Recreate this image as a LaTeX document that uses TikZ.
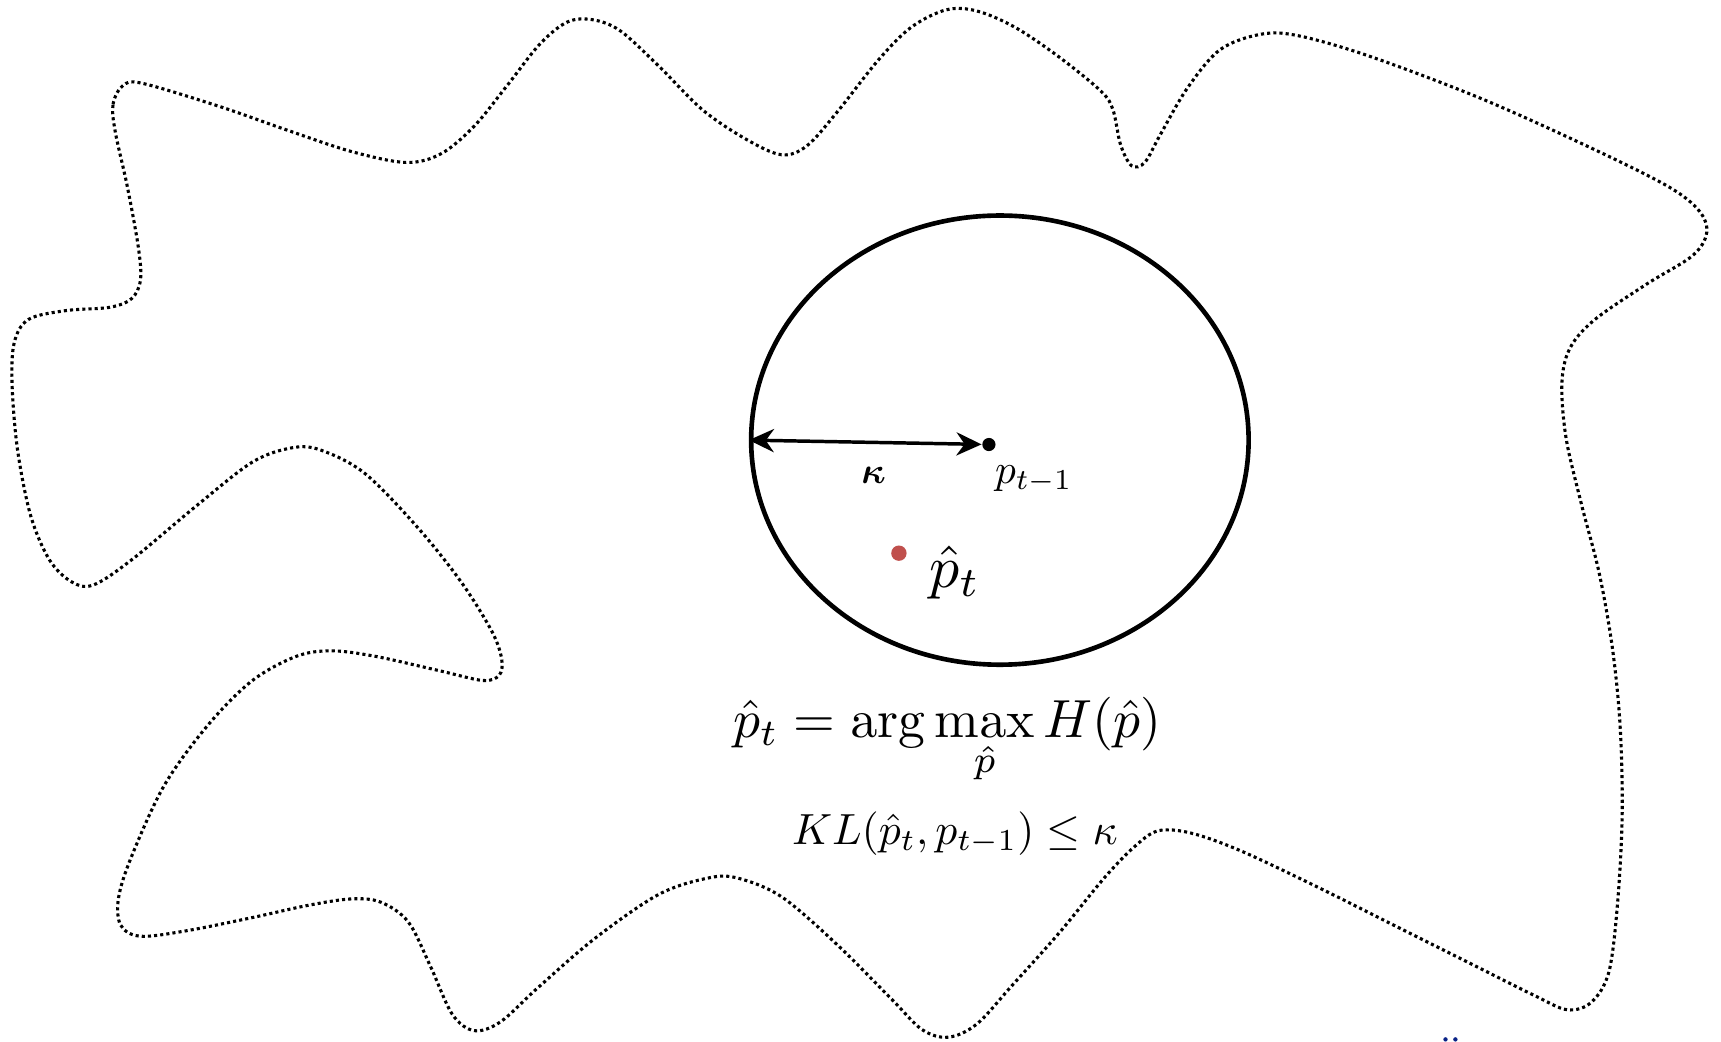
\documentclass[tikz,border=0pt]{standalone}
\usepackage{amsmath}
\usepackage{graphicx}
\usetikzlibrary{shapes.geometric,arrows.meta}
\definecolor{dotred}{RGB}{192,80,77}
\definecolor{navy}{RGB}{10,35,135}
\tikzset{
  blob/.style={line width=0.8pt, dash pattern=on 0.8pt off 0.8pt, line join=round},
  ballshape/.style={draw, ellipse, line width=1.2pt, inner sep=0pt, minimum width=4.53cm, minimum height=4.09cm},
  centerdot/.style={circle, fill=black, inner sep=0pt, minimum size=0.12cm},
  reddot/.style={circle, fill=dotred, inner sep=0pt, minimum size=0.14cm},
  radius arrow/.style={line width=0.9pt, {Stealth[length=6.5pt,width=6pt]}-{Stealth[length=6.5pt,width=6pt]}},
  lbl/.style={inner sep=0pt},
}
\begin{document}
\begin{tikzpicture}[x=0.01cm, y=-0.01cm]
\useasboundingbox (0,0) rectangle (1568,949);
% outer region
\draw[blob] plot[smooth cycle, tension=0.55] coordinates {
 (105,120) (103,95) (112,78) (130,76) (200,97) (260,118) (320,138) (370,148) (402,140)
 (432,115) (462,78) (492,40) (517,20) (540,18) (565,28) (600,60) (640,100) (680,127) (712,141)
 (735,133) (762,103) (800,55) (830,25) (862,9) (890,10) (925,25) (965,52) (1003,83) (1014,100)
 (1021,132) (1031,151) (1043,148) (1057,123) (1082,80) (1112,45) (1150,31) (1185,33) (1250,52)
 (1350,90) (1450,135) (1520,170) (1548,192) (1555,212) (1542,233) (1500,259) (1452,292) (1430,318)
 (1423,350) (1427,400) (1441,460) (1457,522) (1469,590) (1476,660) (1478,740) (1474,820) (1466,885)
 (1450,913) (1428,920) (1398,907) (1340,878) (1270,843) (1200,808) (1130,775) (1085,759) (1055,757)
 (1033,772) (1006,800) (965,850) (922,898) (890,933) (864,945) (840,938) (812,910) (762,860) (712,817)
 (672,800) (645,800) (600,815) (542,855) (490,900) (456,931) (432,939) (412,924) (392,880) (372,840)
 (347,822) (320,819) (280,825) (230,836) (170,848) (128,853) (110,843) (108,818) (120,780) (150,715)
 (190,660) (230,620) (270,598) (302,593) (342,598) (400,611) (440,620) (455,615) (457,600) (448,575)
 (420,530) (380,480) (332,431) (292,410) (266,408) (230,421) (180,460) (120,510) (85,533) (65,530)
 (45,510) (28,470) (16,410) (11,350) (13,312) (26,291) (60,283) (100,280) (120,272) (128,255)
 (126,225) (116,170)
};
% ball
\node[ballshape] (ball) at (911,401) {};
\node[centerdot] (prev) at (901,405) {};
\draw[radius arrow] (ball.west) -- (prev);
\node[lbl] (kappa) at (796,433) {\scalebox{0.95}{$\boldsymbol{\kappa}$}};
\node[lbl] (prevlbl) at (942,437) {\scalebox{1.07}{$p_{t-1}$}};
\node[lbl] (newlbl) at (870,522) {\scalebox{1.55}{$\hat{p}_t$}};
\node[reddot] (new) at (819,504) {};
\node[lbl, anchor=base] (obj) at (863,672) {\scalebox{1.39}{$\displaystyle \hat{p}_t = \arg\max_{\hat{p}} H(\hat{p})$}};
\node[lbl, anchor=base] (cons) at (870,769) {\scalebox{1.13}{$KL(\hat{p}_t, p_{t-1}) \leq \kappa$}};
% partial mark at the bottom edge
\fill[navy] (1317,947) circle[radius=2];
\fill[navy] (1326,947) circle[radius=2];
\end{tikzpicture}
\end{document}
